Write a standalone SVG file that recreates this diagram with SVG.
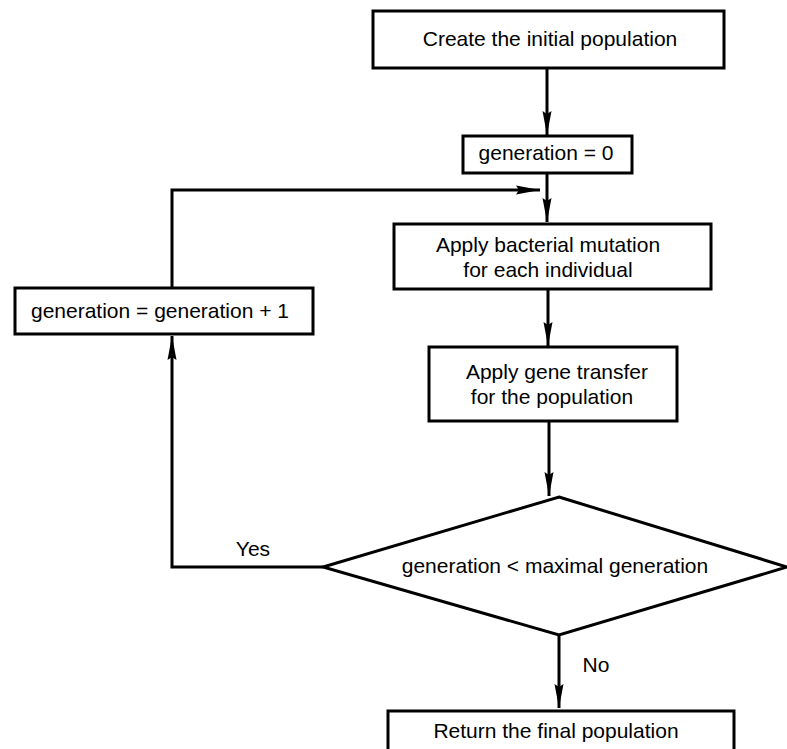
<svg xmlns="http://www.w3.org/2000/svg" width="787" height="749" viewBox="0 0 787 749">
  <style>
    .box { fill: #ffffff; stroke: #000000; stroke-width: 3; }
    .wire { fill: none; stroke: #000000; stroke-width: 3; }
    text { font-family: "Liberation Sans", Arial, sans-serif; font-size: 21px; fill: #000000; text-anchor: middle; }
  </style>
  <defs>
    <marker id="arrow" viewBox="0 0 24 10" refX="24" refY="5" markerWidth="24" markerHeight="10" markerUnits="userSpaceOnUse" orient="auto">
      <path d="M0,0.5 L24,5 L0,9.5 L3,5 Z" fill="#000000"/>
    </marker>
  </defs>
  <rect width="787" height="749" fill="#ffffff"/>

  <g id="connectors">
    <line class="wire" x1="547" y1="68" x2="547" y2="135" marker-end="url(#arrow)"/>
    <line class="wire" x1="547" y1="173" x2="547" y2="222" marker-end="url(#arrow)"/>
    <line class="wire" x1="548" y1="289" x2="548" y2="346" marker-end="url(#arrow)"/>
    <line class="wire" x1="549" y1="421" x2="549" y2="496" marker-end="url(#arrow)"/>
    <line class="wire" x1="559" y1="635" x2="559" y2="708" marker-end="url(#arrow)"/>
    <polyline class="wire" points="323,567 172,567 172,336" marker-end="url(#arrow)"/>
    <polyline class="wire" points="172,288 172,190 540,190" marker-end="url(#arrow)"/>
    <text x="253" y="556">Yes</text>
    <text x="596" y="672">No</text>
  </g>

  <g id="create-population">
    <rect class="box" x="373" y="11" width="351" height="57"/>
    <text x="550" y="46">Create the initial population</text>
  </g>

  <g id="generation-zero">
    <rect class="box" x="463" y="136" width="169" height="37"/>
    <text x="546" y="160">generation = 0</text>
  </g>

  <g id="bacterial-mutation">
    <rect class="box" x="394" y="224" width="317" height="65"/>
    <text x="548" y="252">Apply bacterial mutation</text>
    <text x="548" y="277">for each individual</text>
  </g>

  <g id="generation-increment">
    <rect class="box" x="15" y="288" width="298" height="46"/>
    <text x="160" y="318">generation = generation + 1</text>
  </g>

  <g id="gene-transfer">
    <rect class="box" x="429" y="347" width="248" height="74"/>
    <text x="557" y="379">Apply gene transfer</text>
    <text x="552" y="404">for the population</text>
  </g>

  <g id="termination-check">
    <polygon class="box" points="559,497 787,567 559,635 323,567"/>
    <text x="555" y="573">generation &lt; maximal generation</text>
  </g>

  <g id="return-population">
    <rect class="box" x="388" y="711" width="346" height="50"/>
    <text x="556" y="738">Return the final population</text>
  </g>
</svg>
